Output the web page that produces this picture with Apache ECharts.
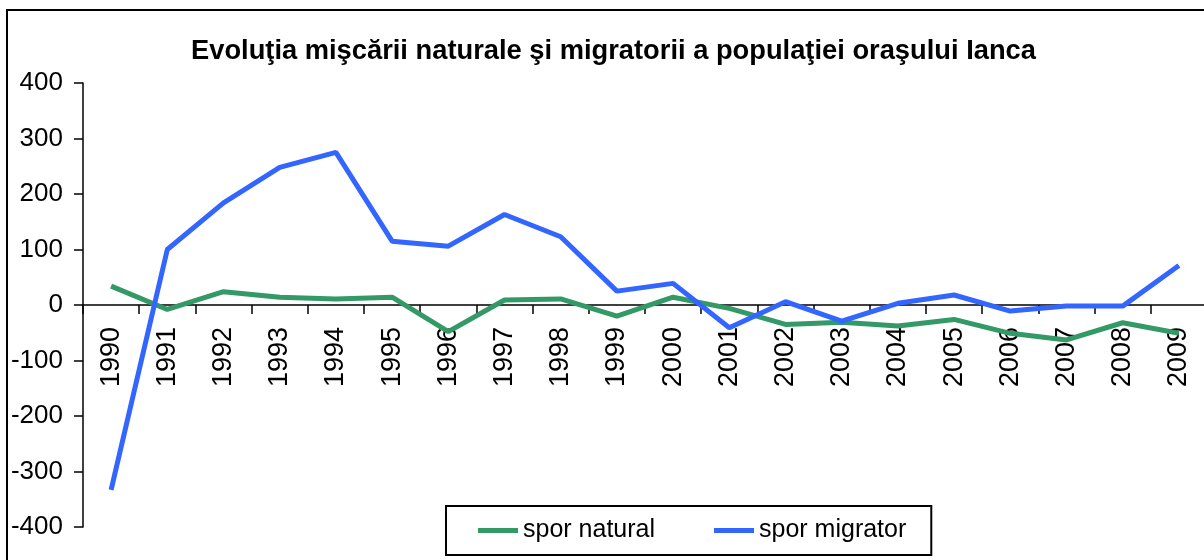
<!DOCTYPE html>
<html>
<head>
<meta charset="utf-8">
<script src="https://cdn.jsdelivr.net/npm/echarts@6/dist/echarts.min.js"></script>
<style>
  html, body { margin: 0; padding: 0; background: #fff; }
  #chart { width: 1204px; height: 560px; }
</style>
</head>
<body>
<div id="chart"></div>
<script>
// date
var years = ['1990','1991','1992','1993','1994','1995','1996','1997','1998','1999',
             '2000','2001','2002','2003','2004','2005','2006','2007','2008','2009'];
var sporNatural = [34, -8, 24, 14, 11, 14, -48, 9, 11, -20, 14, -6, -35, -31, -38, -26, -51, -63, -32, -51];
var sporMigrator = [-333, 100, 184, 248, 275, 115, 106, 163, 123, 25, 39, -41, 6, -29, 3, 18, -11, -2, -2, 71];
var yTicks = { min: -400, max: 400, interval: 100 };

(function(){
    var myChart = echarts.init(document.getElementById('chart'));
    var font = 'Liberation Sans, Arial, sans-serif';
    var gridTop = 83, gridHeight = 444;

    var option = {
        backgroundColor: '#fff',
        animation: false,
        title: {
            text: 'Evoluţia mişcării naturale şi migratorii a populaţiei oraşului Ianca',
            left: 186,
            top: 33,
            textStyle: {
                color: '#000',
                fontFamily: font,
                fontWeight: 'bold',
                fontSize: 27.3
            }
        },
        legend: {
            left: 446,
            top: 506,
            padding: [12, 25, 12, 32],
            borderColor: '#000',
            borderWidth: 2,
            itemGap: 59,
            itemWidth: 40,
            itemHeight: 5,
            icon: 'rect',
            textStyle: { color: '#000', fontFamily: font, fontSize: 25 },
            data: ['spor natural', 'spor migrator']
        },
        grid: {
            left: 83,
            top: gridTop,
            width: 1124,
            height: gridHeight,
            containLabel: false,
            outerBoundsMode: 'none'
        },
        xAxis: {
            type: 'category',
            data: years,
            boundaryGap: true,
            // axa X trece prin 0 (mijlocul intervalului -400..400)
            offset: -gridHeight / 2,
            axisLine: { onZero: false, lineStyle: { color: '#000', width: 1.5 } },
            axisTick: { show: true, length: 9, lineStyle: { color: '#000', width: 1.5 } },
            axisLabel: {
                rotate: 90,
                margin: 22,
                color: '#000',
                fontFamily: font,
                fontSize: 27,
                interval: 0
            },
            splitLine: { show: false }
        },
        yAxis: {
            type: 'value',
            min: yTicks.min,
            max: yTicks.max,
            interval: yTicks.interval,
            axisLine: { show: true, lineStyle: { color: '#000', width: 1.5 } },
            axisTick: { show: true, length: 9, lineStyle: { color: '#000', width: 1.5 } },
            axisLabel: {
                margin: 20,
                color: '#000',
                fontFamily: font,
                fontSize: 26
            },
            splitLine: { show: false }
        },
        series: [
            {
                name: 'spor natural',
                type: 'line',
                data: sporNatural,
                symbol: 'none',
                color: '#339966',
                z: 5,
                lineStyle: { color: '#339966', width: 5 }
            },
            {
                name: 'spor migrator',
                type: 'line',
                data: sporMigrator,
                symbol: 'none',
                color: '#3366FF',
                z: 5,
                lineStyle: { color: '#3366FF', width: 5 }
            }
        ],
        // chenarul graficului (doar stanga si sus se vad)
        graphic: [{
            type: 'polyline',
            shape: { points: [[7, 560], [7, 10], [1204, 10]] },
            style: { stroke: '#000', lineWidth: 2, fill: null },
            z: 100
        }]
    };

    myChart.setOption(option);
})();
</script>
</body>
</html>
